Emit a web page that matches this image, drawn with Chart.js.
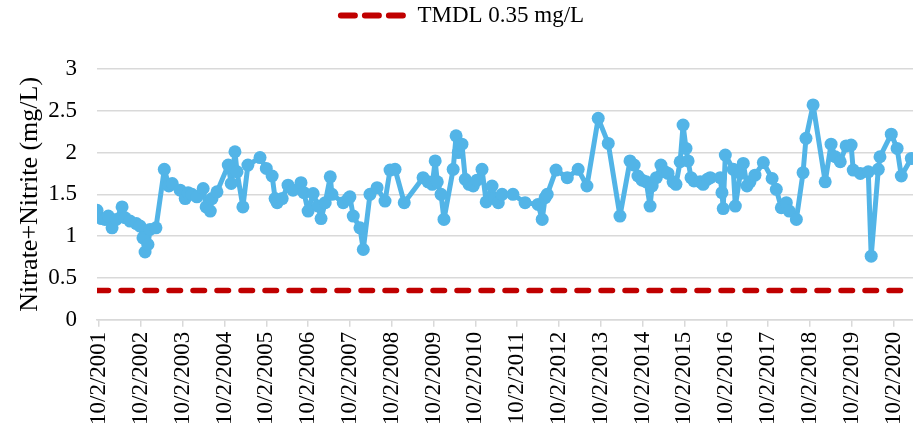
<!DOCTYPE html>
<html>
<head>
<meta charset="utf-8">
<script src="https://cdn.jsdelivr.net/npm/chart.js@4/dist/chart.umd.min.js"></script>
<style>
    html, body { margin: 0; padding: 0; background: #fff; }
</style>
</head>
<body>
<canvas id="nitrate" width="913" height="434"></canvas>
<script>
// sample dates as decimal years
const sampleDates = [
    2001.70, 2001.80, 2001.89, 2001.97, 2002.06, 2002.16, 2002.30, 2002.37, 2002.49, 2002.64,
    2002.73, 2002.80, 2002.85, 2002.92, 2002.97, 2003.11, 2003.31, 2003.42, 2003.50, 2003.69,
    2003.81, 2003.88, 2003.97, 2004.09, 2004.24, 2004.31, 2004.41, 2004.45, 2004.57, 2004.84,
    2004.91, 2005.00, 2005.05, 2005.19, 2005.31, 2005.60, 2005.75, 2005.89, 2005.96, 2006.01,
    2006.13, 2006.27, 2006.39, 2006.58, 2006.65, 2006.75, 2006.87, 2006.99, 2007.06, 2007.16,
    2007.28, 2007.32, 2007.59, 2007.71, 2007.75, 2007.83, 2007.99, 2008.07, 2008.23, 2008.40,
    2008.59, 2008.71, 2008.83, 2009.05, 2009.50, 2009.62, 2009.72, 2009.79, 2009.84, 2009.93,
    2010.00, 2010.22, 2010.29, 2010.34, 2010.43, 2010.51, 2010.60, 2010.70, 2010.79, 2010.91,
    2011.01, 2011.15, 2011.22, 2011.30, 2011.39, 2011.65, 2011.94, 2012.25, 2012.35, 2012.42,
    2012.47, 2012.68, 2012.95, 2013.21, 2013.42, 2013.69, 2013.93, 2014.21, 2014.45, 2014.55,
    2014.64, 2014.74, 2014.84, 2014.93, 2014.98, 2015.08, 2015.19, 2015.29, 2015.36, 2015.48,
    2015.55, 2015.65, 2015.72, 2015.79, 2015.84, 2015.91, 2015.98, 2016.13, 2016.20, 2016.30,
    2016.37, 2016.61, 2016.65, 2016.68, 2016.73, 2016.92, 2016.97, 2017.09, 2017.16, 2017.25,
    2017.32, 2017.44, 2017.64, 2017.85, 2017.95, 2018.07, 2018.19, 2018.26, 2018.43, 2018.59,
    2018.66, 2018.83, 2019.12, 2019.26, 2019.36, 2019.48, 2019.62, 2019.74, 2019.79, 2019.96,
    2020.15, 2020.22, 2020.39, 2020.43, 2020.70, 2020.84, 2020.94, 2021.18
];

// nitrate+nitrite, mg/L
const nitrateValues = [
    1.31, 1.21, 1.20, 1.24, 1.10, 1.20, 1.35, 1.22, 1.18, 1.15,
    1.12, 0.98, 0.81, 0.90, 1.08, 1.10, 1.80, 1.60, 1.63, 1.55,
    1.45, 1.52, 1.50, 1.47, 1.57, 1.35, 1.30, 1.45, 1.53, 1.85,
    1.63, 2.01, 1.77, 1.35, 1.85, 1.94, 1.81, 1.72, 1.45, 1.40,
    1.45, 1.61, 1.55, 1.64, 1.52, 1.30, 1.51, 1.36, 1.21, 1.40,
    1.71, 1.50, 1.40, 1.45, 1.47, 1.24, 1.10, 0.84, 1.50, 1.58,
    1.42, 1.79, 1.80, 1.40, 1.70, 1.65, 1.62, 1.90, 1.65, 1.50,
    1.20, 1.80, 2.20, 2.00, 2.10, 1.68, 1.62, 1.60, 1.67, 1.80,
    1.41, 1.60, 1.45, 1.40, 1.50, 1.50, 1.40, 1.38, 1.20, 1.46,
    1.50, 1.79, 1.70, 1.80, 1.60, 2.41, 2.11, 1.24, 1.90, 1.85,
    1.72, 1.67, 1.65, 1.36, 1.60, 1.70, 1.85, 1.77, 1.75, 1.65,
    1.62, 1.89, 2.33, 2.05, 1.90, 1.70, 1.66, 1.65, 1.62, 1.68,
    1.70, 1.70, 1.52, 1.33, 1.97, 1.80, 1.36, 1.75, 1.87, 1.60,
    1.65, 1.73, 1.88, 1.69, 1.56, 1.34, 1.40, 1.30, 1.20, 1.76,
    2.17, 2.57, 1.65, 2.10, 1.95, 1.89, 2.08, 2.09, 1.79, 1.75,
    1.77, 0.76, 1.80, 1.95, 2.22, 2.05, 1.72, 1.93
];

const tmdlValue = 0.35;
const xRange = [2001.70, 2021.22];

const tickLabels = [
    '10/2/2001', '10/2/2002', '10/2/2003', '10/2/2004', '10/2/2005',
    '10/2/2006', '10/2/2007', '10/2/2008', '10/2/2009', '10/2/2010',
    '10/2/2011', '10/2/2012', '10/2/2013', '10/2/2014', '10/2/2015',
    '10/2/2016', '10/2/2017', '10/2/2018', '10/2/2019', '10/2/2020'
];

const serif = "'Liberation Serif', 'Times New Roman', serif";

// m/d/yyyy -> decimal year
function toYear(label) {
    const [m, d, y] = label.split('/').map(Number);
    const start = Date.UTC(y, 0, 1);
    const days = (Date.UTC(y, m - 1, d) - start) / 86400000;
    return y + days / 365;
}

const tickYears = tickLabels.map(toYear);

// extra room under the legend, and nudge it a little right
const legendGap = {
    id: 'legendGap',
    beforeInit(chart) {
        const fit = chart.legend.fit;
        chart.legend.fit = function() {
            fit.call(this);
            this.height += 32;
        };
    },
    afterLayout(chart) {
        chart.legend.left += 6;
        chart.legend.right += 6;
    }
};

new Chart(document.getElementById('nitrate'), {
    type: 'line',
    plugins: [legendGap],
    data: {
        datasets: [
            {
                label: 'Nitrate+Nitrite',
                data: sampleDates.map((x, i) => ({ x: x, y: nitrateValues[i] })),
                borderColor: '#52B4E7',
                backgroundColor: '#52B4E7',
                borderWidth: 5,
                borderJoinStyle: 'round',
                pointRadius: 6.5,
                pointBorderWidth: 0,
                pointHoverRadius: 6.5,
                tension: 0
            },
            {
                label: 'TMDL 0.35 mg/L',
                data: xRange.map(x => ({ x: x, y: tmdlValue })),
                borderColor: '#C00000',
                backgroundColor: '#C00000',
                borderWidth: 5.5,
                borderDash: [11.5, 12.5],
                borderCapStyle: 'round',
                pointRadius: 0
            }
        ]
    },
    options: {
        responsive: false,
        animation: false,
        layout: {
            autoPadding: false,
            padding: { top: 0, right: 0, bottom: 4, left: 0 }
        },
        plugins: {
            tooltip: { enabled: false },
            legend: {
                position: 'top',
                labels: {
                    filter: item => item.datasetIndex === 1,
                    generateLabels: c => Chart.defaults.plugins.legend.labels.generateLabels(c).map(item => ({
                        ...item,
                        lineDash: [14, 10],
                        lineCap: 'round',
                        lineWidth: 6
                    })),
                    usePointStyle: true,
                    pointStyle: 'line',
                    pointStyleWidth: 65,
                    color: '#000',
                    padding: 4,
                    font: { family: serif, size: 23 }
                }
            }
        },
        scales: {
            x: {
                type: 'linear',
                min: xRange[0],
                max: xRange[1],
                afterBuildTicks: scale => {
                    scale.ticks = tickYears.map(v => ({ value: v }));
                },
                afterFit: scale => {
                    scale.paddingLeft = 0;
                    scale.paddingRight = 0;
                },
                ticks: {
                    autoSkip: false,
                    minRotation: 90,
                    maxRotation: 90,
                    padding: 5,
                    color: '#000',
                    font: { family: serif, size: 23 },
                    callback: (v, i) => tickLabels[i]
                },
                grid: {
                    drawOnChartArea: false,
                    tickLength: 7,
                    color: '#D9D9D9',
                    lineWidth: 1.5
                },
                border: { color: '#D9D9D9', width: 1.5 }
            },
            y: {
                min: 0,
                max: 3,
                afterFit: scale => {
                    scale.width = 97;
                },
                ticks: {
                    stepSize: 0.5,
                    padding: 20,
                    color: '#000',
                    font: { family: serif, size: 23 },
                    callback: v => String(v)
                },
                grid: {
                    drawTicks: false,
                    color: '#D9D9D9',
                    lineWidth: 1.5
                },
                border: { display: false },
                title: {
                    display: true,
                    text: 'Nitrate+Nitrite (mg/L)',
                    color: '#000',
                    padding: { top: 15, bottom: 2 },
                    font: { family: serif, size: 26 }
                }
            }
        }
    }
});
</script>
</body>
</html>
